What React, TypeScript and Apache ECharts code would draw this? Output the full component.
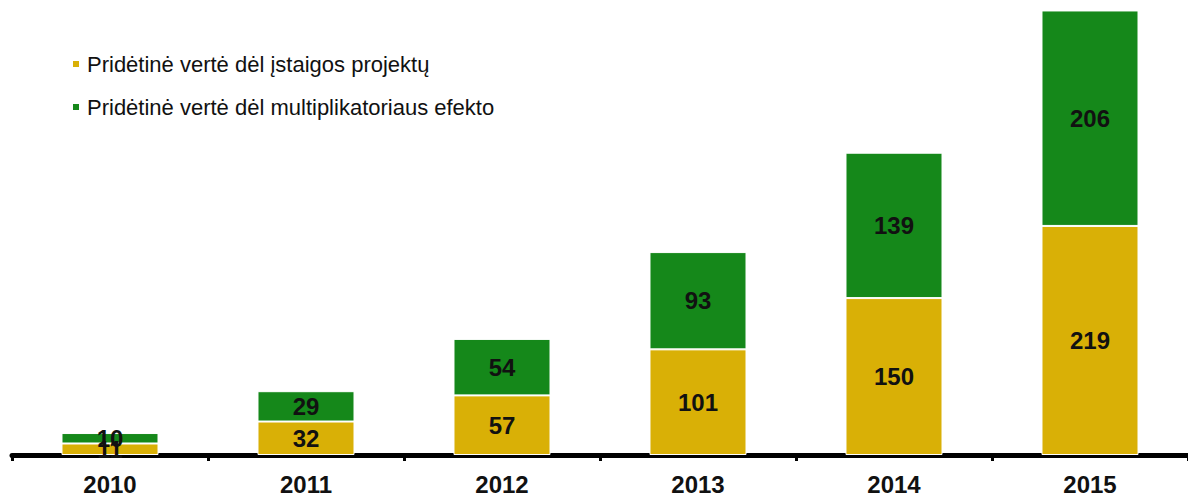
import React, { useEffect, useRef } from "react";
import * as echarts from "echarts";

const years = ["2010", "2011", "2012", "2013", "2014", "2015"];
const projectValues = [11, 32, 57, 101, 150, 219];
const multiplierValues = [10, 29, 54, 93, 139, 206];
const seriesNames = [
  "Pridėtinė vertė dėl įstaigos projektų",
  "Pridėtinė vertė dėl multiplikatoriaus efekto",
];

const FONT = "'Liberation Sans', Arial, sans-serif";

export default function App() {
  const ref = useRef<HTMLDivElement>(null);
  useEffect(() => {
    if (!ref.current) return;
    const chart = echarts.init(ref.current, null, { renderer: "svg" });
    const label = {
      show: true,
      position: "inside",
      color: "#111",
      fontFamily: FONT,
      fontWeight: "bold",
      fontSize: 24,
    };
    chart.setOption({
      animation: false,
      backgroundColor: "#ffffff",
      legend: {
        orient: "vertical",
        left: 71,
        top: 52,
        padding: 0,
        itemWidth: 8,
        itemHeight: 8,
        itemGap: 19,
        icon: "rect",
        textStyle: {
          fontFamily: FONT,
          fontSize: 22,
          color: "#111",
          lineHeight: 24,
          padding: [0, 0, 0, 2],
        },
        data: seriesNames,
      },
      grid: { left: 12, top: 0, width: 1182, bottom: 39 },
      xAxis: {
        type: "category",
        data: years,
        axisLine: { show: true, lineStyle: { color: "#000", width: 5 } },
        axisTick: {
          show: true,
          alignWithLabel: false,
          length: 6,
          lineStyle: { color: "#000", width: 3 },
        },
        axisLabel: {
          color: "#111",
          fontFamily: FONT,
          fontWeight: "bold",
          fontSize: 24,
          margin: 17,
        },
      },
      yAxis: {
        type: "value",
        min: 0,
        max: 435,
        show: false,
        splitLine: { show: false },
      },
      series: [
        {
          name: seriesNames[0],
          type: "bar",
          stack: "total",
          data: projectValues,
          barCategoryGap: "50.5%",
          itemStyle: { color: "#D9B006", borderColor: "#ffffff", borderWidth: 1 },
          label,
        },
        {
          name: seriesNames[1],
          type: "bar",
          stack: "total",
          data: multiplierValues,
          barCategoryGap: "50.5%",
          itemStyle: { color: "#15881A", borderColor: "#ffffff", borderWidth: 1 },
          label,
        },
      ],
    });
    return () => chart.dispose();
  }, []);
  return (
    <div
      ref={ref}
      style={{ position: "fixed", left: 0, top: 0, width: 1188, height: 496 }}
    />
  );
}
